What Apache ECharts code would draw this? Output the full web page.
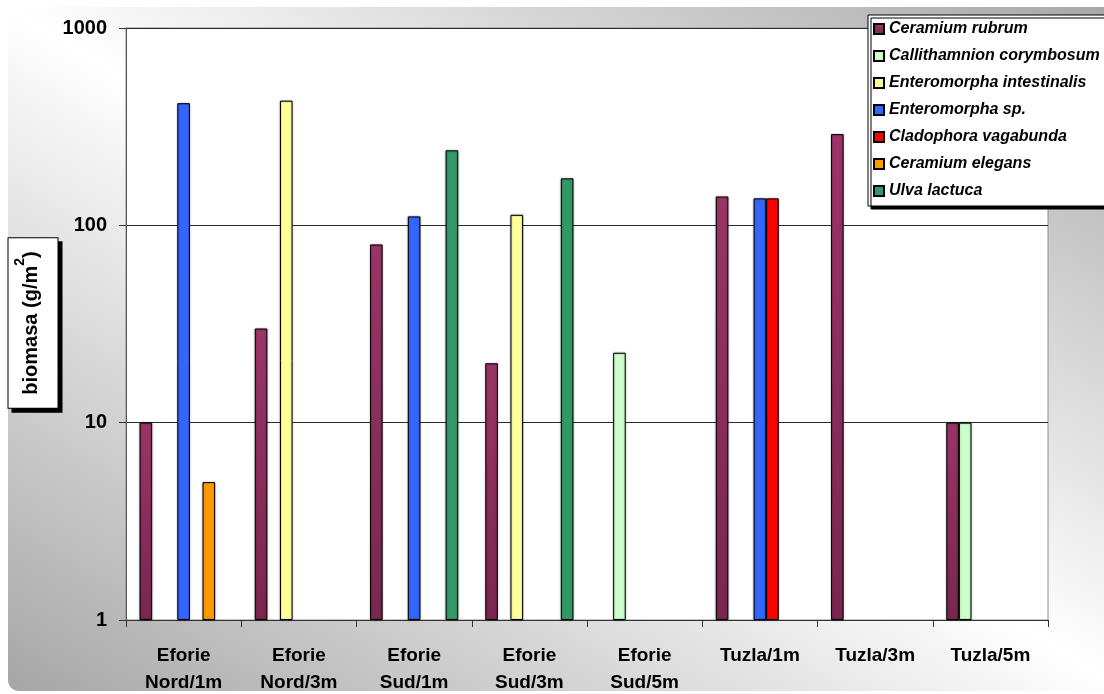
<!DOCTYPE html>
<html>
<head>
<meta charset="utf-8">
<title>Biomasa macroalge</title>
<script src="https://cdn.jsdelivr.net/npm/echarts@6/dist/echarts.min.js"></script>
<style>
  html, body { margin: 0; padding: 0; background: #ffffff; }
  #chart { width: 1104px; height: 694px; }
</style>
</head>
<body>
<div id="chart"></div>
<script>
// Sampling stations (category axis)
const stations = ['Eforie\nNord/1m', 'Eforie\nNord/3m', 'Eforie\nSud/1m', 'Eforie\nSud/3m',
                  'Eforie\nSud/5m', 'Tuzla/1m', 'Tuzla/3m', 'Tuzla/5m'];

// Species names (legend order)
const speciesNames = ['Ceramium rubrum', 'Callithamnion corymbosum', 'Enteromorpha intestinalis',
                      'Enteromorpha sp.', 'Cladophora vagabunda', 'Ceramium elegans', 'Ulva lactuca'];

// Biomass per station, g/m2 (null = species absent)
const ceramiumRubrum       = [10, 30, 80, 20, null, 140, 290, 10];
const callithamnion        = [null, null, null, null, 22.6, null, null, 10];
const enteromorphaInt      = [null, 428, null, 113, null, null, null, null];
const enteromorphaSp       = [416, null, 111, null, null, 137, null, null];
const cladophoraVagabunda  = [null, null, null, null, null, 137, null, null];
const ceramiumElegans      = [5, null, null, null, null, null, null, null];
const ulvaLactuca          = [null, null, 240, 173, null, null, null, null];

// Y axis tick values
const yTicks = [1, 10, 100, 1000];

const seriesValues = [ceramiumRubrum, callithamnion, enteromorphaInt, enteromorphaSp,
                      cladophoraVagabunda, ceramiumElegans, ulvaLactuca];

const seriesColors = [
  { type: 'linear', x: 0, y: 0, x2: 0, y2: 1,
    colorStops: [{ offset: 0, color: '#9b3468' }, { offset: 1, color: '#7a2650' }] },
  '#ccffcc', '#ffff99', '#3366ff', '#ff0000', '#ff9900', '#339966'
];

const FONT = 'Arial, "Liberation Sans", sans-serif';

// Chart-area panel: rounded box whose shading runs dark -> white -> dark
// across the bottom-left / top-right corners, white along the other diagonal.
const panel = { x: 8, y: 7, w: 1120, h: 684 };
const pcx = panel.x + panel.w / 2, pcy = panel.y + panel.h / 2;
const diag = Math.sqrt(panel.w * panel.w + panel.h * panel.h);
const reach = panel.w * panel.h / diag;
const gdx = panel.h / diag * reach, gdy = panel.w / diag * reach;

const chart = echarts.init(document.getElementById('chart'), null, { renderer: 'canvas' });

const series = speciesNames.map((name, i) => ({
  name: name,
  type: 'bar',
  data: seriesValues[i],
  barGap: '0%',
  barCategoryGap: '23.5%',
  itemStyle: {
    color: seriesColors[i],
    borderColor: '#000000',
    borderWidth: 1,
    shadowColor: 'rgba(0,0,0,0.35)',
    shadowBlur: 2
  },
  emphasis: { disabled: true }
}));

chart.setOption({
  animation: false,
  backgroundColor: '#ffffff',
  graphic: [
    {
      type: 'rect',
      z: -100,
      silent: true,
      shape: { x: panel.x, y: panel.y, width: panel.w, height: panel.h, r: 11 },
      style: {
        fill: {
          type: 'linear', global: true,
          x: pcx - gdx, y: pcy + gdy, x2: pcx + gdx, y2: pcy - gdy,
          colorStops: [
            { offset: 0, color: '#a6a6a6' },
            { offset: 0.5, color: '#ffffff' },
            { offset: 1, color: '#a6a6a6' }
          ]
        }
      }
    },
    {
      type: 'text',
      z: 100,
      silent: true,
      x: 33,
      y: 323,
      rotation: Math.PI / 2,
      style: {
        text: '{a|biomasa (g/m}{s|2}{a|)}',
        align: 'center',
        verticalAlign: 'middle',
        backgroundColor: '#ffffff',
        borderColor: '#000000',
        borderWidth: 1,
        padding: [5, 13, 9, 13],
        shadowColor: '#000000',
        shadowOffsetX: 4,
        shadowOffsetY: 4,
        shadowBlur: 0,
        rich: {
          a: { font: 'bold 20px ' + FONT, fill: '#000000', lineHeight: 35, verticalAlign: 'middle' },
          s: { font: 'bold 14px ' + FONT, fill: '#000000', lineHeight: 35, verticalAlign: 'top' }
        }
      }
    }
  ],
  legend: {
    orient: 'vertical',
    left: 868,
    top: 15,
    padding: [5, 20, 6, 5],
    itemGap: 9,
    itemWidth: 10,
    itemHeight: 10,
    icon: 'rect',
    backgroundColor: '#ffffff',
    borderColor: '#000000',
    borderWidth: 1,
    shadowColor: '#000000',
    shadowOffsetX: 3,
    shadowOffsetY: 3,
    shadowBlur: 0,
    selectedMode: false,
    data: speciesNames,
    textStyle: {
      fontFamily: FONT,
      fontSize: 16,
      fontWeight: 'bold',
      fontStyle: 'italic',
      color: '#000000',
      lineHeight: 18
    }
  },
  grid: {
    left: 126,
    top: 28,
    right: 56,
    bottom: 74,
    outerBoundsMode: 'none',
    containLabel: false,
    show: true,
    backgroundColor: '#ffffff',
    borderColor: '#8c8c8c',
    borderWidth: 1
  },
  xAxis: {
    type: 'category',
    data: stations,
    boundaryGap: true,
    axisLine: { lineStyle: { color: '#333333', width: 1 } },
    axisTick: { show: true, length: 7, lineStyle: { color: '#333333' } },
    axisLabel: {
      interval: 0,
      margin: 22,
      fontFamily: FONT,
      fontSize: 19,
      fontWeight: 'bold',
      color: '#000000',
      lineHeight: 27
    },
    splitLine: { show: false }
  },
  yAxis: {
    type: 'log',
    logBase: 10,
    min: yTicks[0],
    max: yTicks[yTicks.length - 1],
    splitNumber: yTicks.length - 1,
    axisLine: { show: true, lineStyle: { color: '#555555', width: 1 } },
    axisTick: { show: true, length: 7, lineStyle: { color: '#333333' } },
    axisLabel: {
      margin: 19,
      fontFamily: FONT,
      fontSize: 20,
      fontWeight: 'bold',
      color: '#000000',
      formatter: v => String(Math.round(v))
    },
    splitLine: { show: true, lineStyle: { color: '#2a2a2a', width: 1 } },
    minorTick: { show: false },
    minorSplitLine: { show: false }
  },
  series: series
});
</script>
</body>
</html>
